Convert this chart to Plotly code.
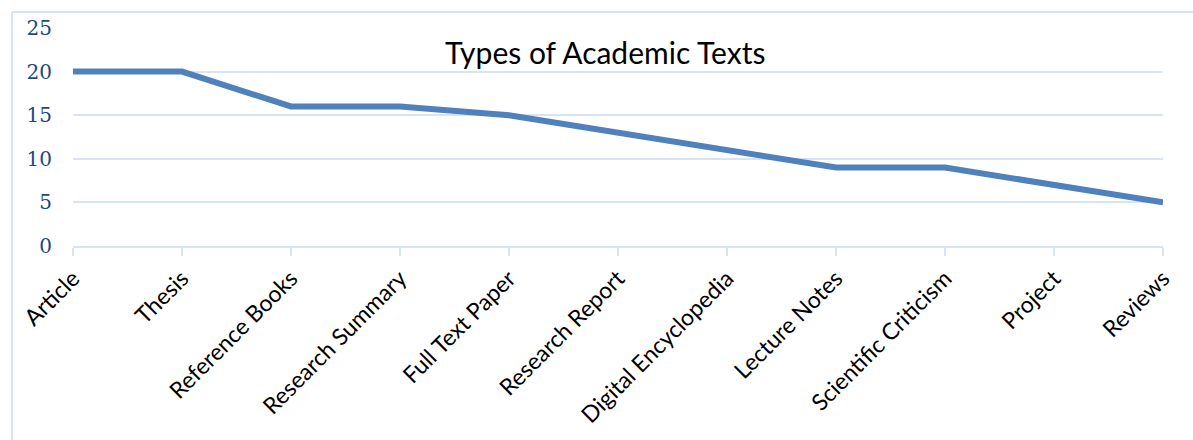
import plotly.graph_objects as go

categories = ["Article", "Thesis", "Reference Books", "Research Summary", "Full Text Paper",
              "Research Report", "Digital Encyclopedia", "Lecture Notes", "Scientific Criticism",
              "Project", "Reviews"]
values = [20, 20, 16, 16, 15, 13, 11, 9, 9, 7, 5]
y_ticks = [0, 5, 10, 15, 20, 25]
title_text = "Types of Academic Texts"

W, H = 1193, 440
L, R, T, B = 73, 30, 28, 194
pw, ph = W - L - R, H - T - B

def px(x):
    return (x - L) / pw

def py(y):
    return (H - B - y) / ph

grid = "#D9E4F3"

fig = go.Figure()
fig.add_trace(go.Scatter(x=categories, y=values, mode="lines",
                         line=dict(color="#4F81BD", width=6), showlegend=False,
                         cliponaxis=False))

fig.update_layout(
    width=W, height=H,
    margin=dict(l=L, r=R, t=T, b=B),
    paper_bgcolor="white", plot_bgcolor="white",
    xaxis=dict(type="category", range=[0, len(categories) - 1], showgrid=False,
               showline=True, linecolor=grid, linewidth=2,
               ticks="outside", ticklen=8, tickcolor=grid, tickwidth=2,
               tickangle=-45, tickfont=dict(family="Lato", size=23, color="black"),
               zeroline=False),
    yaxis=dict(range=[0, 25], tickvals=y_ticks, showgrid=True, gridcolor=grid, gridwidth=2,
               zeroline=False, showline=False, ticks="", ticklabelstandoff=20,
               tickfont=dict(family="DejaVu Serif", size=20, color="#1F497D")),
    annotations=[dict(text=title_text, x=px(605), y=py(52), xref="paper", yref="paper",
                      showarrow=False, xanchor="center", yanchor="middle",
                      font=dict(family="Lato", size=30, color="black"))],
    shapes=[
        dict(type="line", xref="paper", yref="paper", x0=px(12), x1=px(W + 5), y0=py(12), y1=py(12),
             line=dict(color=grid, width=2)),
        dict(type="line", xref="paper", yref="paper", x0=px(12), x1=px(12), y0=py(12), y1=py(H + 5),
             line=dict(color=grid, width=2)),
    ],
)

fig.write_html("out.html")
